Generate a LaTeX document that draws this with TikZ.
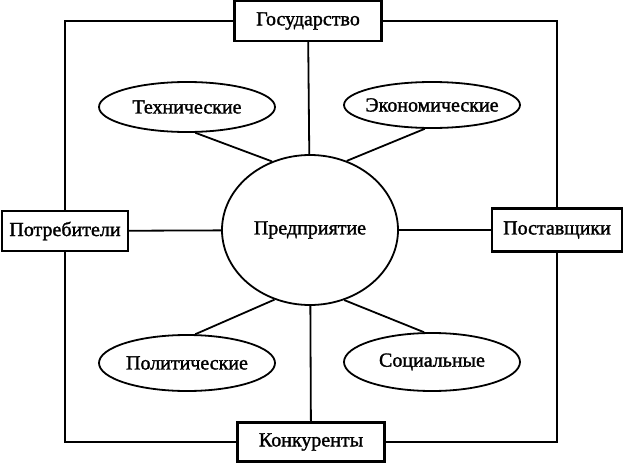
\documentclass[tikz,border=0pt]{standalone}
\usepackage{fontspec}
\setmainfont{Liberation Serif}[FakeBold=1.5]
\usetikzlibrary{shapes.geometric}
\begin{document}
\begin{tikzpicture}[
            x=1pt, y=-1pt,
            every node/.style={font=\fontsize{20}{24}\selectfont},
            actor/.style={draw, line width=2.2pt, fill=white, minimum height=40pt, inner sep=0pt},
            factor/.style={draw, ellipse, line width=1.8pt, minimum width=176pt, minimum height=50pt, inner sep=0pt},
            link/.style={draw, line width=1.8pt}
          ]
          \useasboundingbox (0,0) rectangle (624,466);

          % Enterprise in the middle
          \node[factor, minimum height=150pt] (firm) at (310,230) {Предприятие};

          % Outer actors
          \node[actor, minimum width=147pt] (gov) at (308,21) {Государство};
          \node[actor, minimum width=126pt] (cons) at (65,231) {Потребители};
          \node[actor, minimum width=130pt, minimum height=43pt] (supp) at (557,230) {Поставщики};
          \node[actor, minimum width=147pt, minimum height=39pt] (comp) at (311,442) {Конкуренты};

          % Factors
          \node[factor] (tech) at (187,107) {};
          \node at (tech) {Технические};
          \node[factor, minimum height=46pt] (econ) at (432,105) {};
          \node at (econ) {Экономические};
          \node[factor, minimum height=56pt] (pol) at (187,363) {};
          \node at (pol) {Политические};
          \node[factor, minimum height=58pt] (soc) at (432,362) {};
          \node at (soc) {Социальные};

          % Outer frame
          \draw[link, line width=2.2pt] (gov.west) -| (cons.north);
          \draw[link, line width=2.2pt] (cons.south) |- (comp.west);
          \draw[link, line width=2.2pt] (comp.east) -| (supp.south);
          \draw[link, line width=2.2pt] (supp.north) |- (gov.east);

          % Spokes
          \draw[link] (gov) -- (firm);
          \draw[link] (comp) -- (firm);
          \draw[link] (cons) -- (firm);
          \draw[link] (supp) -- (firm);
          \draw[link] (tech.-72) -- (firm.119);
          \draw[link] (econ.-107) -- (firm.62);
          \draw[link] (pol.74) -- (firm.-117);
          \draw[link] (soc.105) -- (firm.-64);
\end{tikzpicture}
\end{document}
